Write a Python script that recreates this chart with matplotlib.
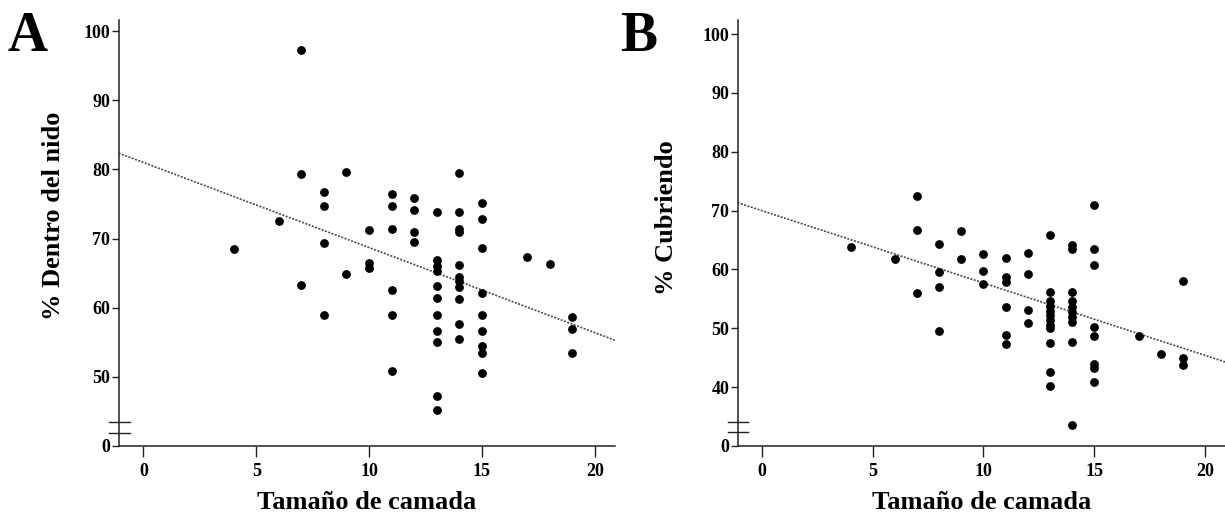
import matplotlib
matplotlib.use("Agg")
import matplotlib.pyplot as plt
import numpy as np

# ---------------- Data ----------------
# Panel A: % Dentro del nido vs Tamaño de camada
a_x = [4, 6,
       7, 7, 7,
       8, 8, 8, 8,
       9, 9,
       10, 10, 10,
       11, 11, 11, 11, 11, 11,
       12, 12, 12, 12,
       13, 13, 13, 13, 13, 13, 13, 13, 13, 13, 13,
       14, 14, 14, 14, 14, 14, 14, 14, 14, 14, 14,
       15, 15, 15, 15, 15, 15, 15, 15, 15,
       17, 18,
       19, 19, 19]
a_y = [68.5, 72.5,
       97.3, 79.3, 63.3,
       76.7, 74.7, 69.4, 59.0,
       79.6, 64.8,
       71.3, 66.4, 65.7,
       76.4, 74.7, 71.4, 62.6, 58.9, 50.8,
       75.9, 74.1, 71.0, 69.5,
       73.8, 66.9, 66.1, 65.3, 63.2, 61.4, 59.0, 56.6, 55.0, 47.2, 45.2,
       79.5, 73.8, 71.4, 71.0, 66.2, 64.4, 63.8, 63.0, 61.2, 57.6, 55.5,
       75.1, 72.8, 68.6, 62.1, 58.9, 56.7, 54.4, 53.4, 50.5,
       67.3, 66.3,
       58.6, 56.9, 53.5]
a_fit_intercept = 81.0
a_fit_slope = -1.23

# Panel B: % Cubriendo vs Tamaño de camada
b_x = [4, 6,
       7, 7, 7,
       8, 8, 8, 8,
       9, 9,
       10, 10, 10,
       11, 11, 11, 11, 11, 11,
       12, 12, 12, 12,
       13, 13, 13, 13, 13, 13, 13, 13, 13, 13, 13, 13,
       14, 14, 14, 14, 14, 14, 14, 14, 14, 14,
       15, 15, 15, 15, 15, 15, 15, 15,
       17, 18,
       19, 19, 19]
b_y = [63.9, 61.7,
       72.5, 66.7, 56.0,
       64.4, 59.5, 57.0, 49.5,
       66.5, 61.7,
       62.6, 59.7, 57.6,
       62.0, 58.8, 57.9, 53.6, 48.9, 47.3,
       62.8, 59.3, 53.1, 50.9,
       65.9, 56.1, 54.6, 53.8, 53.0, 52.2, 51.4, 50.6, 50.0, 47.5, 42.5, 40.2,
       64.2, 63.5, 56.1, 54.6, 53.7, 52.8, 52.0, 51.1, 47.6, 33.6,
       71.0, 63.5, 60.8, 50.3, 48.7, 44.0, 43.3, 40.8,
       48.7, 45.7,
       58.1, 45.0, 43.8]
b_fit_intercept = 70.0
b_fit_slope = -1.23

x_ticks = [0, 5, 10, 15, 20]
a_yticks = [40, 50, 60, 70, 80, 90, 100]
a_yticklabels = ["0", "50", "60", "70", "80", "90", "100"]
b_yticks = [30, 40, 50, 60, 70, 80, 90, 100]
b_yticklabels = ["0", "40", "50", "60", "70", "80", "90", "100"]

xlabel = "Tamaño de camada"
a_ylabel = "% Dentro del nido"
b_ylabel = "% Cubriendo"

# ---------------- Plot ----------------
plt.rcParams['font.family'] = ['Liberation Serif', 'DejaVu Serif']

fig = plt.figure(figsize=(12.25, 5.2), dpi=100)

bottom = 1 - 446 / 520
height = (446 - 20) / 520
axA = fig.add_axes([118.6 / 1225, bottom, (615 - 118.6) / 1225, height])
axB = fig.add_axes([737.5 / 1225, bottom, (1225 - 737.5) / 1225, height])

XLIM = (-1.1, 20.9)

def style(ax, xs, ys, b0, b1, ylim, yticks, yticklabels, ylabel, breaks,
          ylab_xy, letter, letter_xy):
    ax.scatter(xs, ys, s=40, color='black', zorder=3, linewidths=0)
    lx = np.array(XLIM)
    ax.plot(lx, b0 + b1 * lx, color='#4a4a4a', lw=1.2,
            linestyle=(0, (1.2, 0.9)), zorder=2)
    ax.set_xlim(*XLIM)
    ax.set_ylim(*ylim)
    ax.set_xticks(x_ticks)
    ax.set_xticklabels([str(t) for t in x_ticks])
    ax.set_yticks(yticks)
    ax.set_yticklabels(yticklabels)
    for s in ['top', 'right']:
        ax.spines[s].set_visible(False)
    for s in ['left', 'bottom']:
        ax.spines[s].set_linewidth(1.1)
        ax.spines[s].set_color('#222222')
    ax.tick_params(axis='y', direction='out', length=5, width=1.0,
                   color='#222222', pad=1, labelsize=13)
    ax.tick_params(axis='x', direction='out', length=8, width=1.0,
                   color='#222222', pad=4, labelsize=13)
    for lab in ax.get_xticklabels() + ax.get_yticklabels():
        lab.set_fontweight('bold')
    ax.set_xlabel(xlabel, fontsize=19, fontweight='bold')
    ax.xaxis.set_label_coords(0.5, -0.105)
    ax.set_ylabel(ylabel, fontsize=19, fontweight='bold')
    ax.yaxis.set_label_coords(*ylab_xy)
    # axis break marks
    trans = ax.get_yaxis_transform()
    for yb in breaks:
        ax.plot([-0.02, 0.022], [yb, yb], transform=trans, color='#222222',
                lw=1.0, clip_on=False)
    fig.text(letter_xy[0], letter_xy[1], letter, fontsize=40,
             fontweight='bold', ha='center', va='center')

style(axA, a_x, a_y, a_fit_intercept, a_fit_slope, (40, 101.6),
      a_yticks, a_yticklabels, a_ylabel, [43.4, 41.9], (-0.108, 0.54),
      "A", (27 / 1225, 1 - 37 / 520))
style(axB, b_x, b_y, b_fit_intercept, b_fit_slope, (30, 102.4),
      b_yticks, b_yticklabels, b_ylabel, [34.0, 32.3], (-0.122, 0.535),
      "B", (639 / 1225, 1 - 37 / 520))

fig.savefig("out.png", dpi=100)
